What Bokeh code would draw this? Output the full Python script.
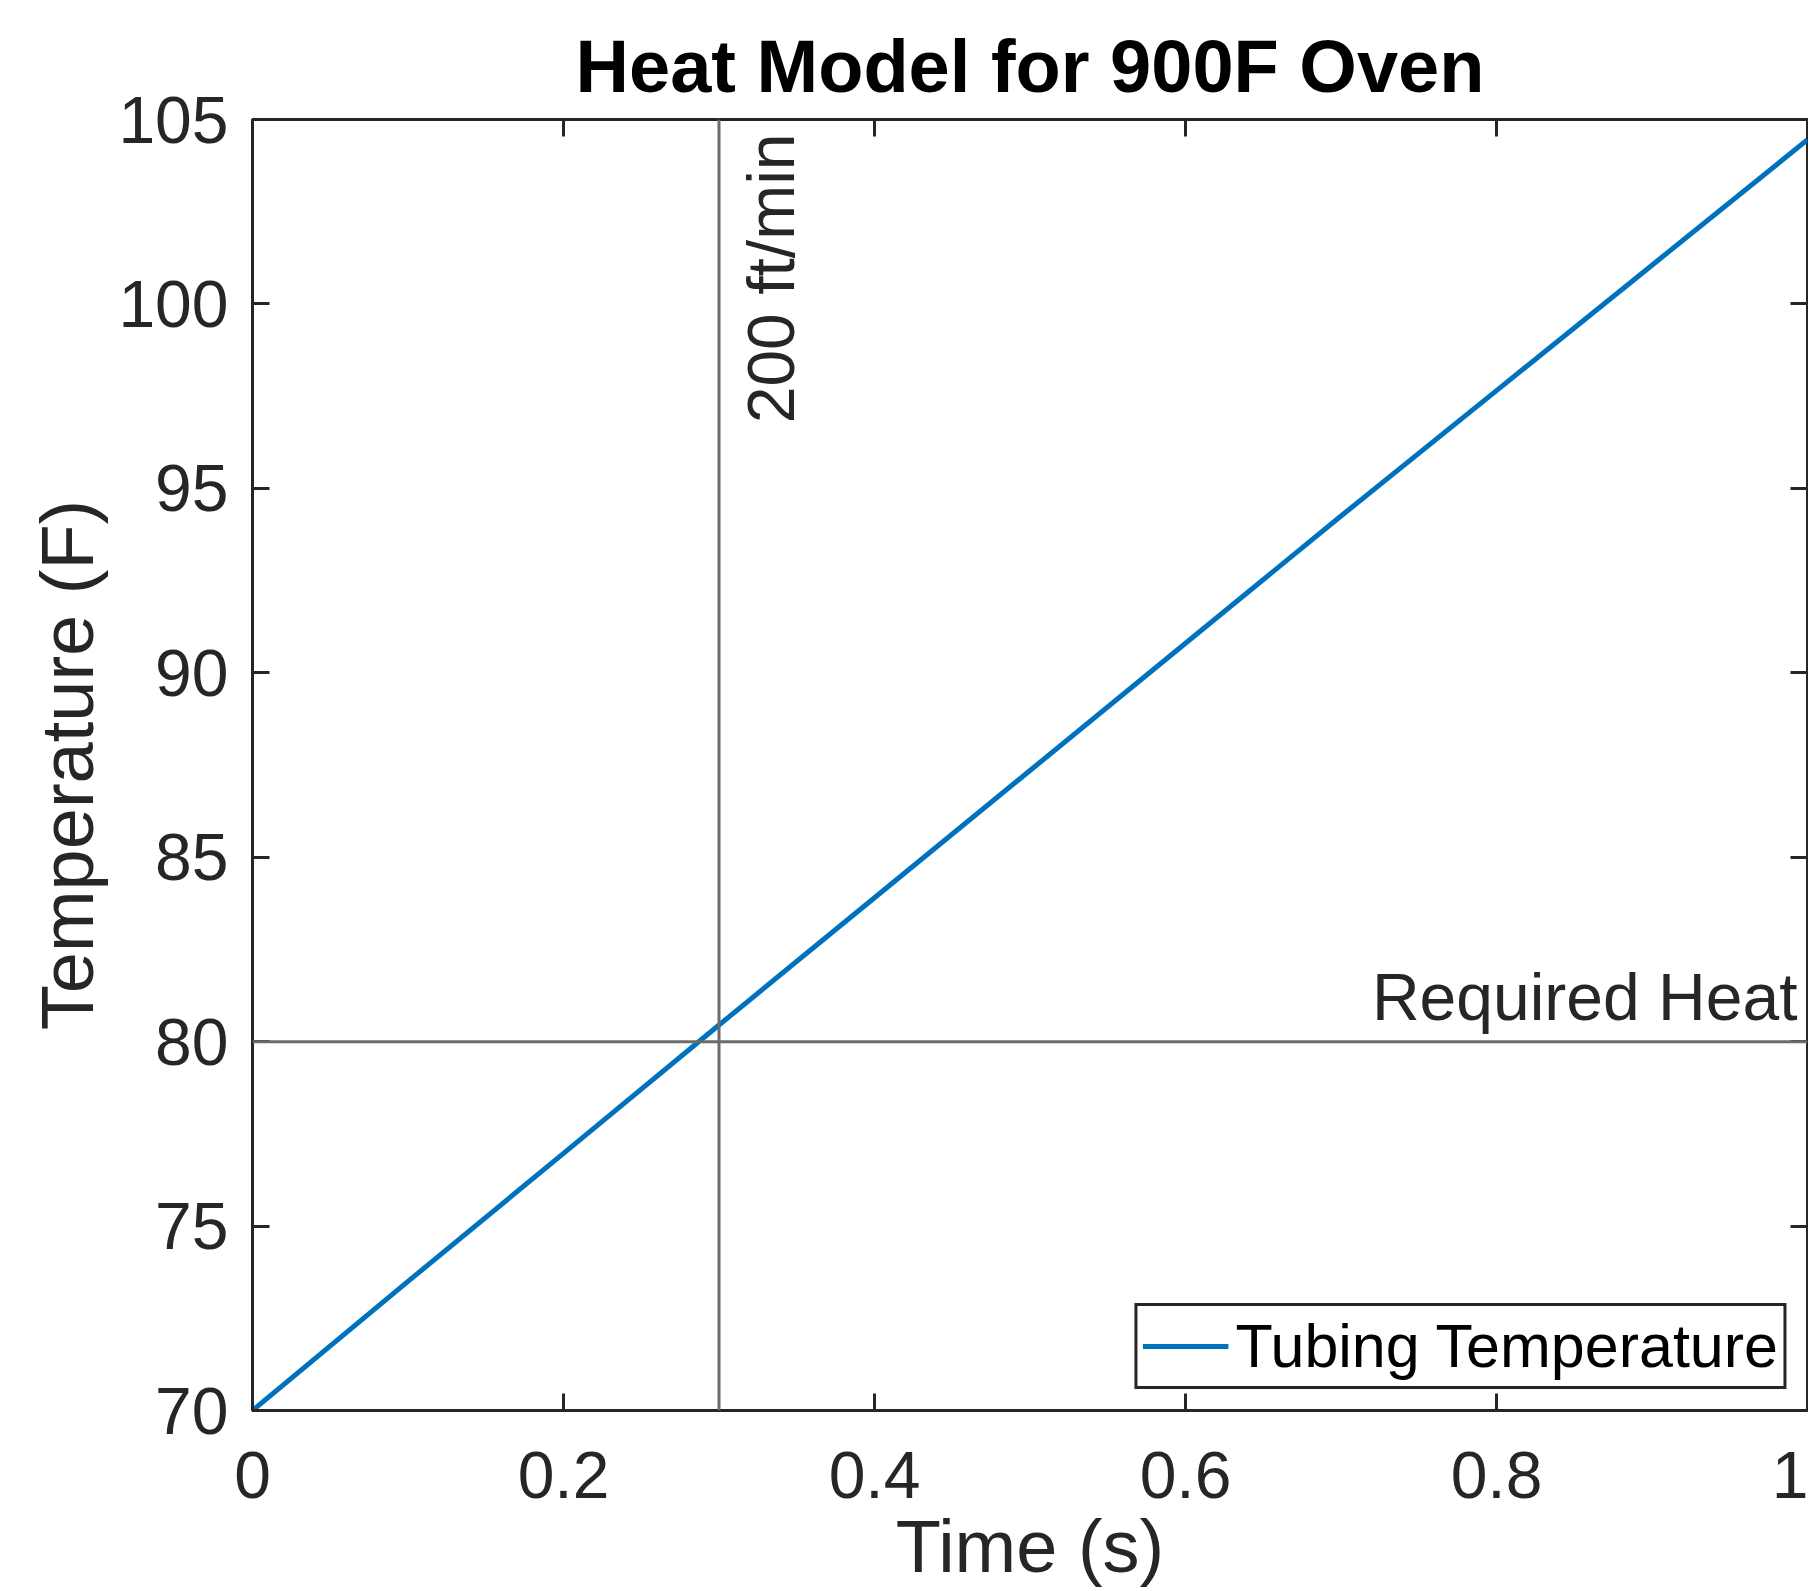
from bokeh.plotting import figure
from bokeh.models import Range1d, FixedTicker, LinearAxis, Span, Label
from bokeh.embed import file_html
from bokeh.resources import INLINE

# ---- data ----
time_s = [0.0, 0.1, 0.2, 0.3, 0.4, 0.5, 0.6, 0.7, 0.8, 0.9, 1.0]
tubing_temp = [70.0, 73.5, 76.97, 80.45, 83.9, 87.35, 90.8, 94.25, 97.65, 101.05, 104.45]
speed_time = 0.3
speed_label = "200 ft/min"
required_heat = 80
required_label = "Required Heat"
x_ticks = [0, 0.2, 0.4, 0.6, 0.8, 1.0]
x_tick_labels = ["0", "0.2", "0.4", "0.6", "0.8", "1"]
y_ticks = [70, 75, 80, 85, 90, 95, 100, 105]
title_text = "Heat Model for 900F Oven"
x_label = "Time (s)"
y_label = "Temperature (F)"
series_name = "Tubing Temperature"

FONT = "Liberation Sans"
AX = "#262626"
BLUE = "#0072BD"
REF = "#6b6b6b"

X_MIN, X_MAX = 0, 1
Y_MIN, Y_MAX = 70, 105

p = figure(width=1808, height=1591, output_backend="svg", toolbar_location=None,
           x_range=Range1d(X_MIN, X_MAX), y_range=Range1d(Y_MIN, Y_MAX),
           min_border_left=252, min_border_right=1, min_border_top=119, min_border_bottom=181)
p.background_fill_color = "white"
p.border_fill_color = "white"
p.xgrid.visible = False
p.ygrid.visible = False
p.outline_line_color = AX
p.outline_line_width = 3

p.title.text = title_text
p.title.align = "center"
p.title.text_font = FONT
p.title.text_font_size = "74px"
p.title.text_font_style = "bold"
p.title.text_color = "black"
p.title.standoff = 23

def style_axis(ax, show_labels=True):
    ax.axis_line_color = None
    ax.major_tick_in = 17
    ax.major_tick_out = 0
    ax.minor_tick_in = 0
    ax.minor_tick_out = 0
    ax.major_tick_line_color = AX
    ax.major_tick_line_width = 3
    ax.major_label_text_font = FONT
    ax.major_label_text_color = AX
    ax.axis_label_text_font = FONT
    ax.axis_label_text_color = AX
    ax.axis_label_text_font_style = "normal"
    ax.axis_label_text_font_size = "74px"
    if show_labels:
        ax.major_label_text_font_size = "66px"
    else:
        ax.major_label_text_font_size = "1px"
        ax.major_label_text_color = None
        ax.major_label_standoff = 0

xa = p.xaxis[0]
xa.ticker = FixedTicker(ticks=x_ticks)
xa.major_label_overrides = {t: l for t, l in zip(x_ticks, x_tick_labels)}
style_axis(xa)
xa.major_label_standoff = 41
xa.axis_label = x_label
xa.axis_label_standoff = 4

ya = p.yaxis[0]
ya.ticker = FixedTicker(ticks=y_ticks)
style_axis(ya)
ya.major_label_standoff = 24
ya.axis_label = y_label
ya.axis_label_standoff = 6

top_ax = LinearAxis(ticker=FixedTicker(ticks=x_ticks))
style_axis(top_ax, show_labels=False)
p.add_layout(top_ax, "above")
right_ax = LinearAxis(ticker=FixedTicker(ticks=y_ticks))
style_axis(right_ax, show_labels=False)
p.add_layout(right_ax, "right")

# reference lines
p.add_layout(Span(location=speed_time, dimension="height", line_color=REF, line_width=3))
p.add_layout(Span(location=required_heat, dimension="width", line_color=REF, line_width=3))

p.add_layout(Label(x=speed_time, y=Y_MAX, text=speed_label, angle=1.5707963, angle_units="rad",
                   text_align="right", text_baseline="top", x_offset=15, y_offset=-14,
                   text_font=FONT, text_font_size="66px", text_color=AX))
p.add_layout(Label(x=X_MAX, y=required_heat, text=required_label,
                   text_align="right", text_baseline="bottom", x_offset=-10, y_offset=8,
                   text_font=FONT, text_font_size="66px", text_color=AX))

p.line(time_s, tubing_temp, line_color=BLUE, line_width=5, legend_label=series_name)

lg = p.legend[0]
lg.location = "bottom_right"
lg.margin = 21
lg.padding = 5
lg.spacing = 0
lg.glyph_width = 86
lg.glyph_height = 60
lg.label_standoff = 7
lg.label_text_font = FONT
lg.label_text_font_size = "61px"
lg.label_text_color = "black"
lg.border_line_color = AX
lg.border_line_width = 3
lg.border_line_alpha = 1.0
lg.background_fill_color = "white"
lg.background_fill_alpha = 1.0

open("out.html", "w").write(file_html(p, INLINE))
